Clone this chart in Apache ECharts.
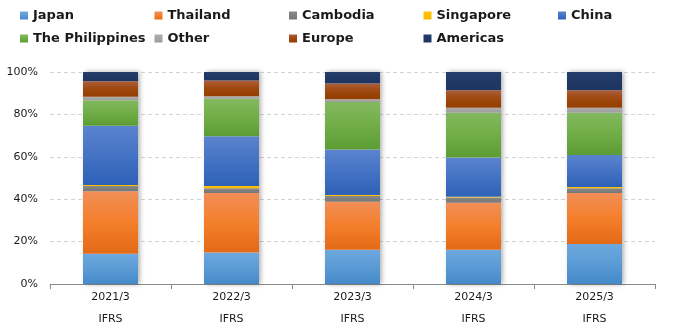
<!DOCTYPE html>
<html>
<head>
<meta charset="utf-8">
<script src="https://cdn.jsdelivr.net/npm/echarts@6/dist/echarts.min.js"></script>
<style>
  html, body { margin: 0; padding: 0; background: #ffffff; }
  #chart { width: 680px; height: 330px; }
</style>
</head>
<body>
<div id="chart"></div>
<script>
// Fiscal years (all under IFRS)
const categories = ['2021/3', '2022/3', '2023/3', '2024/3', '2025/3'];
const standards = ['IFRS', 'IFRS', 'IFRS', 'IFRS', 'IFRS'];

// Regional composition, % of total
const japan       = [14.3, 14.8, 16.2, 16.2, 18.9];
const thailand    = [29.5, 28.1, 22.6, 22.1, 24.0];
const cambodia    = [2.4, 2.3, 2.7, 2.5, 2.3];
const singapore   = [0.5, 1.0, 0.5, 0.4, 0.5];
const china       = [28.0, 23.5, 21.5, 18.5, 15.1];
const philippines = [12.0, 17.7, 22.3, 21.1, 20.0];
const other       = [1.6, 1.2, 1.4, 2.3, 2.3];
const europe      = [7.3, 7.4, 7.4, 8.3, 8.3];
const americas    = [4.4, 4.0, 5.4, 8.6, 8.6];

const yTicks = [0, 20, 40, 60, 80, 100];

const regions = [
  { name: 'Japan',            data: japan,       c: ['#6da8de', '#5b9bd5', '#4589c9'] },
  { name: 'Thailand',         data: thailand,    c: ['#f18e58', '#f47f2b', '#e36916'] },
  { name: 'Cambodia',         data: cambodia,    c: ['#878787', '#7f7f7f', '#767676'] },
  { name: 'Singapore',        data: singapore,   c: ['#ffc000', '#ffc000', '#f5b800'] },
  { name: 'China',            data: china,       c: ['#5b84ce', '#4472c4', '#2e61b7'] },
  { name: 'The Philippines',  data: philippines, c: ['#83b95f', '#70ad47', '#5d9c34'] },
  { name: 'Other',            data: other,       c: ['#adadad', '#a5a5a5', '#9c9c9c'] },
  { name: 'Europe',           data: europe,      c: ['#ad5d3a', '#9e480e', '#943d00'] },
  { name: 'Americas',         data: americas,    c: ['#243d6c', '#203864', '#1e3560'] }
];

const totals = categories.map((_, i) => regions.reduce((s, r) => s + r.data[i], 0));

const chart = echarts.init(document.getElementById('chart'), null, { renderer: 'canvas' });

const FONT = '"DejaVu Sans", Verdana, sans-serif';
const BAR_W = 55;

function grad(c) {
  return new echarts.graphic.LinearGradient(0, 0, 0, 1, [
    { offset: 0, color: c[0] },
    { offset: 0.5, color: c[1] },
    { offset: 1, color: c[2] }
  ]);
}

// Legend laid out as a 5-column grid
const legends = regions.map((r, i) => ({
  data: [r.name],
  left: 20 + (i % 5) * 134.5,
  top: i < 5 ? 9 : 32,
  icon: 'rect',
  itemWidth: 8,
  itemHeight: 8,
  padding: 0,
  selectedMode: false,
  textStyle: { fontFamily: FONT, fontSize: 13, fontWeight: 'bold', color: '#1a1a1a' }
}));

const series = [
  {
    // soft shadow behind each column
    name: '_shadow',
    type: 'bar',
    data: totals,
    barWidth: BAR_W,
    barGap: '-100%',
    z: 1,
    silent: true,
    itemStyle: {
      color: '#ffffff',
      shadowBlur: 5,
      shadowColor: 'rgba(0,0,0,0.35)',
      shadowOffsetX: 1.5,
      shadowOffsetY: 0
    }
  }
].concat(regions.map(r => ({
  name: r.name,
  type: 'bar',
  stack: 'share',
  data: r.data,
  barWidth: BAR_W,
  z: 2,
  itemStyle: { color: grad(r.c) },
  emphasis: { disabled: true }
})));

chart.setOption({
  animation: false,
  backgroundColor: '#ffffff',
  legend: legends,
  grid: { left: 50, right: 25, top: 72, bottom: 41 },
  xAxis: {
    type: 'category',
    data: categories,
    axisLine: { lineStyle: { color: '#8a8a8a', width: 1 } },
    axisTick: { show: true, alignWithLabel: false, length: 5, lineStyle: { color: '#8a8a8a' } },
    axisLabel: {
      fontFamily: FONT,
      fontSize: 11,
      color: '#1a1a1a',
      margin: 2,
      lineHeight: 22,
      formatter: (v, i) => v + '\n' + standards[i]
    }
  },
  yAxis: {
    type: 'value',
    min: yTicks[0],
    max: yTicks[yTicks.length - 1],
    interval: yTicks[1] - yTicks[0],
    axisLine: { show: false },
    axisTick: { show: false },
    axisLabel: {
      fontFamily: FONT,
      fontSize: 11,
      color: '#1a1a1a',
      margin: 12,
      formatter: '{value}%'
    },
    splitLine: { lineStyle: { color: '#d4d4d4', type: [4, 3], width: 1 } }
  },
  series: series
});
</script>
</body>
</html>
